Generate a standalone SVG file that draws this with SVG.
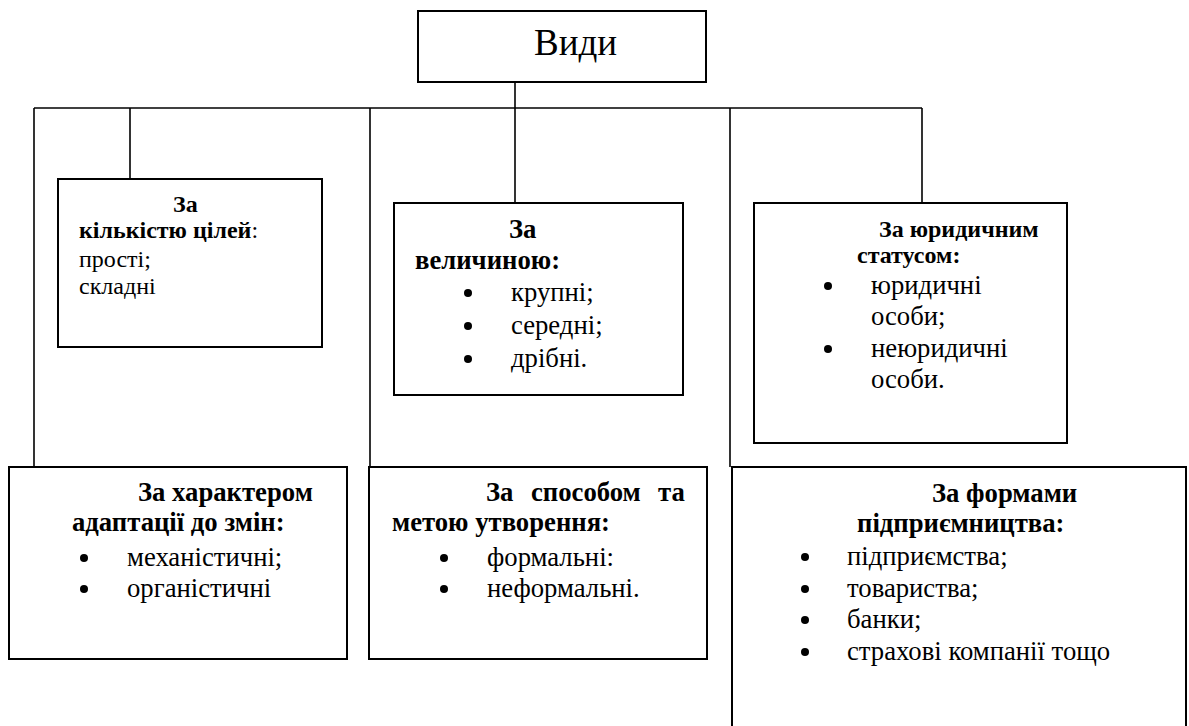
<svg xmlns="http://www.w3.org/2000/svg" width="1189" height="726" viewBox="0 0 1189 726">
<style>
.box{fill:#fff;stroke:#000;stroke-width:2}
.ln{fill:none;stroke:#000;stroke-width:1.6}
.dot{fill:#000}
text{font-family:"Liberation Serif","Times New Roman",serif;font-size:26.7px;fill:#000}
.s{font-size:24px}
.b{font-weight:bold}
.h{font-size:37px}
</style>
<rect width="1189" height="726" fill="#fff"/>
<g id="connectors">
<line class="ln" x1="515" y1="82" x2="515" y2="203"/>
<line class="ln" x1="34" y1="108" x2="922" y2="108"/>
<line class="ln" x1="34" y1="108" x2="34" y2="467"/>
<line class="ln" x1="130" y1="108" x2="130" y2="179"/>
<line class="ln" x1="370" y1="108" x2="370" y2="467"/>
<line class="ln" x1="730" y1="108" x2="730" y2="467"/>
<line class="ln" x1="922" y1="108" x2="922" y2="203"/>
</g>
<g id="root">
<rect class="box" x="418" y="11" width="288" height="71"/>
<text class="h" x="534" y="55">Види</text>
</g>
<g id="n-cilei">
<rect class="box" x="58" y="179" width="264" height="168"/>
<text class="s b" x="173" y="212">За</text>
<text class="s" x="79" y="238"><tspan class="b">кількістю цілей</tspan>:</text>
<text class="s" x="79" y="267">прості;</text>
<text class="s" x="79" y="294">складні</text>
</g>
<g id="n-velychyna">
<rect class="box" x="394" y="203" width="289" height="192"/>
<text class="b" x="509" y="238">За</text>
<text class="b" x="415" y="269">величиною:</text>
<circle class="dot" cx="468" cy="293" r="4"/><text x="511" y="301">крупні;</text>
<circle class="dot" cx="468" cy="326" r="4"/><text x="511" y="334">середні;</text>
<circle class="dot" cx="468" cy="359" r="4"/><text x="511" y="367">дрібні.</text>
</g>
<g id="n-status">
<rect class="box" x="754" y="203" width="313" height="240"/>
<text class="s b" x="879" y="237">За юридичним</text>
<text class="s b" x="857" y="263">статусом:</text>
<circle class="dot" cx="828" cy="286" r="4"/><text x="871" y="294">юридичні</text>
<text x="871" y="325">особи;</text>
<circle class="dot" cx="828" cy="349" r="4"/><text x="871" y="357">неюридичні</text>
<text x="871" y="388">особи.</text>
</g>
<g id="n-adaptacia">
<rect class="box" x="9" y="467" width="338" height="192"/>
<text class="b" x="138" y="501">За характером</text>
<text class="b" x="72" y="531">адаптації до змін:</text>
<circle class="dot" cx="84" cy="558" r="4"/><text x="127" y="566">механістичні;</text>
<circle class="dot" cx="84" cy="589" r="4"/><text x="127" y="597">органістичні</text>
</g>
<g id="n-sposib">
<rect class="box" x="369" y="467" width="338" height="192"/>
<text class="b" y="501"><tspan x="486">За</tspan><tspan x="531">способом</tspan><tspan x="658">та</tspan></text>
<text class="b" x="392" y="531">метою утворення:</text>
<circle class="dot" cx="444" cy="558" r="4"/><text x="487" y="566">формальні:</text>
<circle class="dot" cx="444" cy="589" r="4"/><text x="487" y="597">неформальні.</text>
</g>
<g id="n-formy">
<rect class="box" x="732" y="467" width="454" height="300"/>
<text class="b" x="932" y="502">За формами</text>
<text class="b" x="857" y="532">підприємництва:</text>
<circle class="dot" cx="805" cy="557" r="4"/><text x="847" y="565">підприємства;</text>
<circle class="dot" cx="805" cy="589" r="4"/><text x="847" y="597">товариства;</text>
<circle class="dot" cx="805" cy="620" r="4"/><text x="847" y="628">банки;</text>
<circle class="dot" cx="805" cy="652" r="4"/><text x="847" y="660">страхові компанії тощо</text>
</g>
</svg>
